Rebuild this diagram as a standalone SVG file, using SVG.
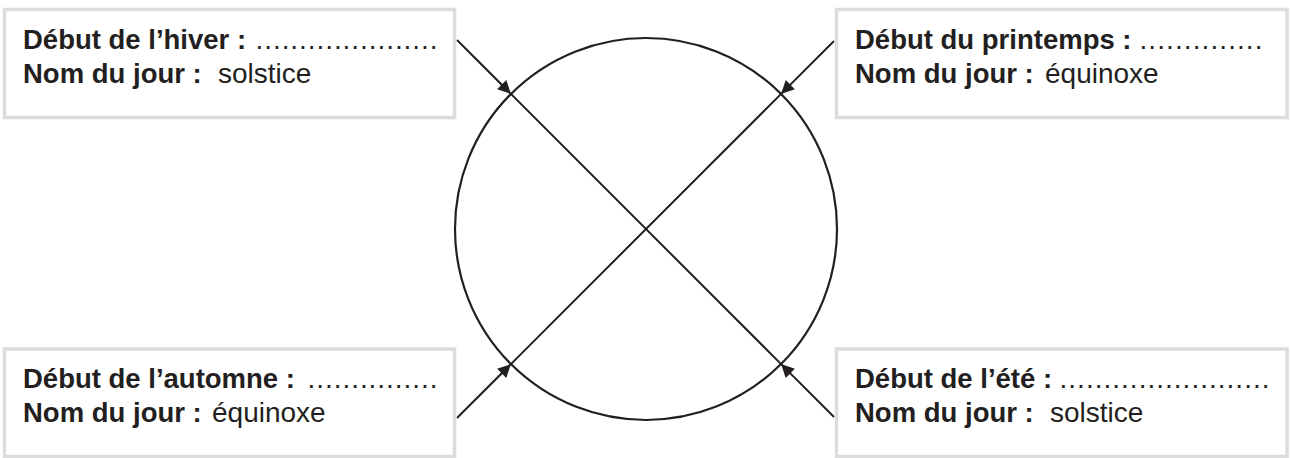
<svg xmlns="http://www.w3.org/2000/svg" width="1290" height="458" viewBox="0 0 1290 458">
  <style>
    .box { fill: #ffffff; stroke: #dcdcdc; stroke-width: 3.5; }
    text { font-family: "Liberation Sans", Arial, sans-serif; fill: #231f20; }
    .b { font-weight: bold; font-size: 27.5px; }
    .r { font-weight: normal; font-size: 28px; }
    .line { stroke: #231f20; stroke-width: 2; fill: none; }
    .arrow { stroke: #231f20; stroke-width: 2; fill: none; marker-end: url(#head); }
  </style>
  <defs>
    <marker id="head" viewBox="0 0 10 10" refX="10" refY="5" markerUnits="userSpaceOnUse" markerWidth="17" markerHeight="13" orient="auto">
      <path d="M0,0 L10,5 L0,10 z" fill="#231f20"/>
    </marker>
  </defs>
  <rect width="1290" height="458" fill="#ffffff"/>

  <g id="circle">
    <circle cx="646" cy="229" r="191" fill="none" stroke="#231f20" stroke-width="2.2"/>
  </g>

  <g id="connectors">
    <line class="line" x1="510.9" y1="93.9" x2="781.1" y2="364.1"/>
    <line class="line" x1="781.1" y1="93.9" x2="510.9" y2="364.1"/>
    <line class="arrow" x1="457" y1="40" x2="510.9" y2="93.9"/>
    <line class="arrow" x1="834" y1="41" x2="781.1" y2="93.9"/>
    <line class="arrow" x1="457" y1="418" x2="510.9" y2="364.1"/>
    <line class="arrow" x1="834" y1="417" x2="781.1" y2="364.1"/>
  </g>

  <g id="hiver">
    <rect class="box" x="4.5" y="9.5" width="450" height="108"/>
    <text x="23" y="48.5"><tspan class="b">Début de l’hiver :</tspan><tspan class="r" x="255.5" textLength="182" lengthAdjust="spacing">.....................</tspan></text>
    <text x="23" y="82.5"><tspan class="b">Nom du jour :</tspan><tspan class="r" x="218">solstice</tspan></text>
  </g>

  <g id="printemps">
    <rect class="box" x="836.5" y="9.5" width="450.5" height="108"/>
    <text x="855" y="48.5"><tspan class="b">Début du printemps :</tspan><tspan class="r" x="1139.5" textLength="123" lengthAdjust="spacing">..............</tspan></text>
    <text x="855" y="82.5"><tspan class="b">Nom du jour :</tspan><tspan class="r" x="1045">équinoxe</tspan></text>
  </g>

  <g id="automne">
    <rect class="box" x="4.5" y="349" width="450" height="107.5"/>
    <text x="23" y="388"><tspan class="b">Début de l’automne :</tspan><tspan class="r" x="307.5" textLength="130" lengthAdjust="spacing">...............</tspan></text>
    <text x="23" y="422"><tspan class="b">Nom du jour :</tspan><tspan class="r" x="212">équinoxe</tspan></text>
  </g>

  <g id="ete">
    <rect class="box" x="836.5" y="349" width="450.5" height="107.5"/>
    <text x="855" y="388"><tspan class="b">Début de l’été :</tspan><tspan class="r" x="1059.5" textLength="210" lengthAdjust="spacing">........................</tspan></text>
    <text x="855" y="422"><tspan class="b">Nom du jour :</tspan><tspan class="r" x="1050">solstice</tspan></text>
  </g>
</svg>
